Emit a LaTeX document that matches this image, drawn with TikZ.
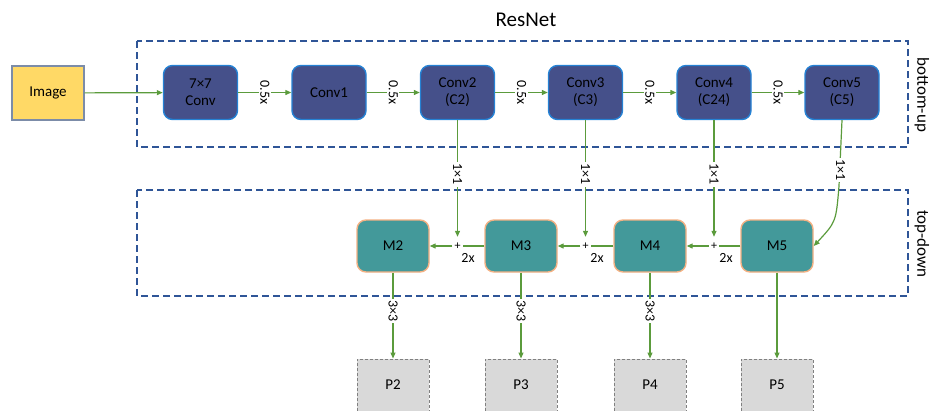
\documentclass[tikz,border=0pt]{standalone}
\usepackage{fontspec}
\setmainfont{Carlito}
\usetikzlibrary{arrows.meta}
\definecolor{convfill}{HTML}{45508A}
\definecolor{convborder}{HTML}{2582D4}
\definecolor{imgfill}{HTML}{FFD966}
\definecolor{imgborder}{HTML}{7C8CA8}
\definecolor{mfill}{HTML}{43999A}
\definecolor{mborder}{HTML}{F4B183}
\definecolor{pfill}{HTML}{D9D9D9}
\definecolor{pborder}{HTML}{808080}
\definecolor{dashblue}{HTML}{2F5597}
\definecolor{arrgreen}{HTML}{5B9B3C}
\tikzset{
  convbox/.style={draw=convborder, line width=1.4pt, fill=convfill, rounded corners=9pt,
    minimum width=74pt, minimum height=54pt, align=center, font=\fontsize{15}{17}\selectfont, text=black},
  imgbox/.style={draw=imgborder, line width=1.2pt, fill=imgfill, minimum width=72pt, minimum height=54pt,
    font=\fontsize{15}{17}\selectfont},
  mbox/.style={draw=mborder, line width=1.4pt, fill=mfill, rounded corners=9pt,
    minimum width=72pt, minimum height=52pt, font=\fontsize{15}{17}\selectfont},
  pbox/.style={draw=pborder, line width=1pt, dash pattern=on 3pt off 2pt, fill=pfill,
    minimum width=72pt, minimum height=52pt, font=\fontsize{15}{17}\selectfont},
  groupbox/.style={draw=dashblue, line width=2pt, dash pattern=on 7pt off 4pt},
  arr/.style={draw=arrgreen, line width=1.2pt, -{Triangle[length=6pt,width=5pt]}},
  ln/.style={draw=arrgreen, line width=1.2pt},
  lbl/.style={fill=white, inner sep=1.5pt, rotate=-90, font=\fontsize{14}{16}\selectfont},
  sidelbl/.style={rotate=-90, font=\fontsize{17}{19}\selectfont},
  plusnode/.style={inner sep=0pt, minimum size=10pt, font=\fontsize{12}{14}\selectfont},
  twox/.style={font=\fontsize{14}{16}\selectfont, inner sep=0pt}
}
\begin{document}
\begin{tikzpicture}[x=1pt,y=-1pt]
\useasboundingbox (0,0) rectangle (932,410);
\begin{scope}
\clip (0,0) rectangle (932,410);
% group boxes
\draw[groupbox] (137,41) rectangle (908,147);
\draw[groupbox] (137,190) rectangle (908,296);
\node[font=\fontsize{21}{23}\selectfont] (title) at (526,20) {ResNet};
\node[sidelbl] (bu) at (922,95) {bottom-up};
\node[sidelbl] (td) at (922,244) {top-down};

% nodes
\node[imgbox] (image) at (48,93) {Image};
\node[convbox] (c0) at (200.5,92.5) {7×7\\Conv};
\node[convbox] (c1) at (329,92.5) {Conv1};
\node[convbox] (c2) at (457.5,92.5) {Conv2\\(C2)};
\node[convbox] (c3) at (585.5,92.5) {Conv3\\(C3)};
\node[convbox] (c4) at (714,92.5) {Conv4\\(C24)};
\node[convbox] (c5) at (842,92.5) {Conv5\\(C5)};

\node[mbox] (m2) at (393,246) {M2};
\node[mbox] (m3) at (521,246) {M3};
\node[mbox] (m4) at (650,246) {M4};
\node[mbox] (m5) at (777,246) {M5};

\node[pbox] (p2) at (393,385) {P2};
\node[pbox] (p3) at (521,385) {P3};
\node[pbox] (p4) at (650,385) {P4};
\node[pbox] (p5) at (777,385) {P5};

\node[plusnode] (s2) at (457.5,246) {+};
\node[plusnode] (s3) at (585.5,246) {+};
\node[plusnode] (s4) at (714,246) {+};

% bottom-up arrows
\draw[arr] (image) -- (c0);
\draw[arr] (c0) -- node[lbl] {0.5x} (c1);
\draw[arr] (c1) -- node[lbl] {0.5x} (c2);
\draw[arr] (c2) -- node[lbl] {0.5x} (c3);
\draw[arr] (c3) -- node[lbl] {0.5x} (c4);
\draw[arr] (c4) -- node[lbl] {0.5x} (c5);

% lateral 1x1
\draw[arr, shorten >=4pt] (c2.south) -- node[lbl, pos=0.45] {1×1} (s2.north);
\draw[arr, shorten >=4pt] (c3.south) -- node[lbl, pos=0.45] {1×1} (s3.north);
\draw[arr, shorten >=4pt] (c4.south) -- node[lbl, pos=0.45] {1×1} (s4.north);
\coordinate (k5) at (839,186);
\draw[ln] (c5.south) -- (k5);
\draw[arr] (k5) .. controls (836,222) .. (m5.east);
\node[lbl] (l5) at (840.5,170) {1×1};

% top-down
\draw[ln] (m3.west) -- (s2.east);
\draw[arr] (s2.west) -- (m2.east);
\draw[ln] (m4.west) -- (s3.east);
\draw[arr] (s3.west) -- (m3.east);
\draw[ln] (m5.west) -- (s4.east);
\draw[arr] (s4.west) -- (m4.east);
\node[twox] (x2) at (468,258) {2x};
\node[twox] (x3) at (597,258) {2x};
\node[twox] (x4) at (726,258) {2x};

% outputs
\draw[arr] (m2.south) -- node[lbl, pos=0.45] {3×3} (p2.north);
\draw[arr] (m3.south) -- node[lbl, pos=0.45] {3×3} (p3.north);
\draw[arr] (m4.south) -- node[lbl, pos=0.45] {3×3} (p4.north);
\draw[arr] (m5.south) -- (p5.north);
\end{scope}
\end{tikzpicture}
\end{document}
